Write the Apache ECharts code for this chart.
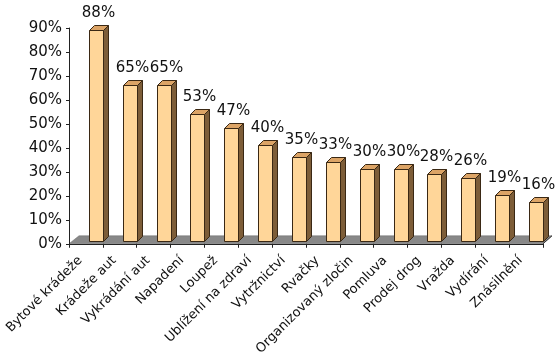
<!DOCTYPE html>
<html>
<head>
<meta charset="utf-8">
<script src="https://cdn.jsdelivr.net/npm/echarts@6/dist/echarts.min.js"></script>
<style>
html,body{margin:0;padding:0;background:#fff;}
#chart{width:559px;height:358px;}
</style>
</head>
<body>
<div id="chart"></div>
<script>
const categories = ['Bytové krádeže','Krádeže aut','Vykrádání aut','Napadení','Loupež','Ublížení na zdraví','Vytržnictví','Rvačky','Organizovaný zločin','Pomluva','Prodej drog','Vražda','Vydírání','Znásilnění'];
const values = [88, 65, 65, 53, 47, 40, 35, 33, 30, 30, 28, 26, 19, 16];
const yTicks = [0, 10, 20, 30, 40, 50, 60, 70, 80, 90];

const FONT = 'DejaVu Sans';
const chart = echarts.init(document.getElementById('chart'));

function renderFloor(params, api) {
  const cs = params.coordSys;
  const x0 = cs.x, x1 = cs.x + cs.width, yF = cs.y + cs.height;
  return {
    type: 'group',
    children: [{
      type: 'polygon',
      shape: { points: [[x0, yF], [x1, yF], [x1 + 9, yF - 8], [x0 + 10, yF - 8]] },
      style: { fill: '#888888', stroke: '#6a6a6a', lineWidth: 0.5 }
    }, {
      type: 'line',
      shape: { x1: x1, y1: yF, x2: x1 + 9, y2: yF - 8 },
      style: { stroke: '#333', lineWidth: 1 }
    }]
  };
}

function renderBar(params, api) {
  const i = api.value(0), v = api.value(1);
  const base = api.coord([i, 0]);
  const topP = api.coord([i, v]);
  const band = api.size([1, 0])[0];
  const right = Math.round(base[0] + band / 2) + 0.5;
  const left = right - 14;
  const yb = Math.round(base[1] - 3) + 0.5;
  const yt = Math.round(topP[1] - 3) + 0.5;
  const d = 5;
  const edge = '#3a2814';
  return {
    type: 'group',
    children: [{
      type: 'polygon',
      shape: { points: [[right, yt], [right + d, yt - d], [right + d, yb - d], [right, yb]] },
      style: { fill: '#7d5d38', stroke: edge, lineWidth: 1 }
    }, {
      type: 'polygon',
      shape: { points: [[left, yt], [left + d, yt - d], [right + d, yt - d], [right, yt]] },
      style: { fill: '#dca466', stroke: edge, lineWidth: 1 }
    }, {
      type: 'rect',
      shape: { x: left, y: yt, width: right - left, height: yb - yt },
      style: { fill: '#ffd699', stroke: edge, lineWidth: 1 }
    }, {
      type: 'text',
      x: right - 5,
      y: yt - d - 5,
      style: {
        text: v + '%',
        fill: '#111',
        font: '15px "' + FONT + '"',
        align: 'center',
        verticalAlign: 'bottom'
      }
    }]
  };
}

chart.setOption({
  animation: false,
  grid: { left: 69, right: 16, top: 28, bottom: 113, containLabel: false },
  xAxis: {
    type: 'category',
    data: categories,
    boundaryGap: true,
    z: 5,
    axisLine: { show: true, lineStyle: { color: '#222', width: 1 } },
    axisTick: { show: true, length: 4, lineStyle: { color: '#222' } },
    axisLabel: {
      interval: 0,
      rotate: 45,
      margin: 9,
      padding: [0, 8, 0, 0],
      color: '#111',
      fontFamily: FONT,
      fontSize: 13
    },
    splitLine: { show: false }
  },
  yAxis: {
    type: 'value',
    min: yTicks[0],
    max: yTicks[yTicks.length - 1],
    interval: 10,
    z: 5,
    axisLine: { show: true, lineStyle: { color: '#222', width: 1 } },
    axisTick: { show: true, length: 3, lineStyle: { color: '#222' } },
    axisLabel: {
      margin: 7,
      color: '#111',
      fontFamily: FONT,
      fontSize: 15,
      formatter: '{value}%'
    },
    splitLine: { show: false }
  },
  series: [{
    type: 'custom',
    name: 'floor',
    z: 1,
    silent: true,
    renderItem: renderFloor,
    data: [[0, 0]],
    encode: { x: 0, y: 1 }
  }, {
    type: 'custom',
    name: 'values',
    z: 2,
    renderItem: renderBar,
    data: values.map((v, i) => [i, v]),
    encode: { x: 0, y: 1 }
  }]
});
</script>
</body>
</html>
